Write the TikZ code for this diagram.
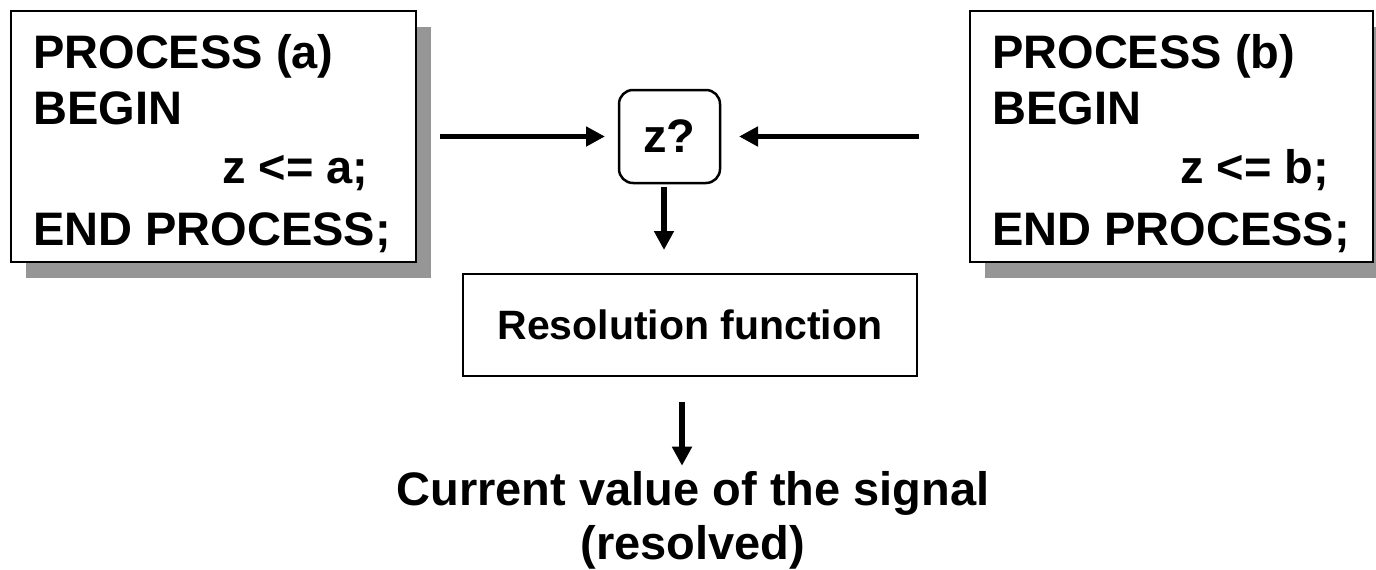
\documentclass[tikz,border=0pt]{standalone}
\usepackage{fontspec}
\setmainfont{Liberation Sans}
\usetikzlibrary{arrows.meta,shadows}
\definecolor{shadowgray}{RGB}{150,150,150}
\tikzset{
  codefont/.style={font=\fontsize{47}{54}\selectfont\bfseries},
  procbox/.style={draw=black, line width=2.5pt, fill=white, inner sep=0pt, outer sep=0pt,
    minimum height=251pt, anchor=north west,
    drop shadow={shadow xshift=15pt, shadow yshift=-16pt, fill=shadowgray, opacity=1}},
  codeline/.style={codefont, inner sep=0pt, anchor=base west},
  sigbox/.style={draw=black, line width=2.5pt, rounded corners=14pt, inner sep=0pt, outer sep=0pt,
    minimum width=101pt, minimum height=93pt, codefont},
  resbox/.style={draw=black, line width=2.5pt, inner sep=0pt, outer sep=0pt,
    minimum width=454pt, minimum height=102pt, font=\fontsize{41}{48}\selectfont\bfseries},
  flow/.style={line width=5.5pt, -{Triangle[length=19pt,width=19pt]}}
}
\begin{document}
\begin{tikzpicture}[x=1pt,y=-1pt]
  \useasboundingbox (0,0) rectangle (1376,570);

  % the two concurrent processes
  \node[procbox, minimum width=405pt] (lbox) at (11,11) {};
  \node[codeline] (la1) at (33,68)  {PROCESS (a)};
  \node[codeline] (la2) at (33,124) {BEGIN};
  \node[codeline] (la3) at (222,183) {z <= a;};
  \node[codeline] (la4) at (33,245) {END PROCESS;};

  \node[procbox, minimum width=403pt] (rbox) at (970,11) {};
  \node[codeline] (rb1) at (992,68)  {PROCESS (b)};
  \node[codeline] (rb2) at (992,124) {BEGIN};
  \node[codeline] (rb3) at (1180,183) {z <= b;};
  \node[codeline] (rb4) at (992,245) {END PROCESS;};

  % the shared signal and its resolution
  \node[sigbox] (z) at (669.5,136.5) {z?};
  \node[resbox] (res) at (690,325) {Resolution function};
  \node[codefont, align=center, inner sep=0pt, anchor=base] (out) at (693,559)
    {Current value of the signal\\(resolved)};

  % drivers and data flow
  \draw[flow, shorten <=24pt, shorten >=14pt] (lbox.east) -- (z.west);
  \draw[flow, shorten <=51pt, shorten >=19pt] (rbox.west) -- (z.east);
  \draw[flow, shorten <=4pt, shorten >=24pt]
    ([xshift=-5.5pt]z.south) -- ([xshift=-5.5pt]z.south |- res.north);
  \draw[flow, shorten <=26pt, shorten >=5pt]
    ([xshift=-8pt]res.south) -- ([xshift=-8pt]res.south |- out.north);
\end{tikzpicture}
\end{document}
